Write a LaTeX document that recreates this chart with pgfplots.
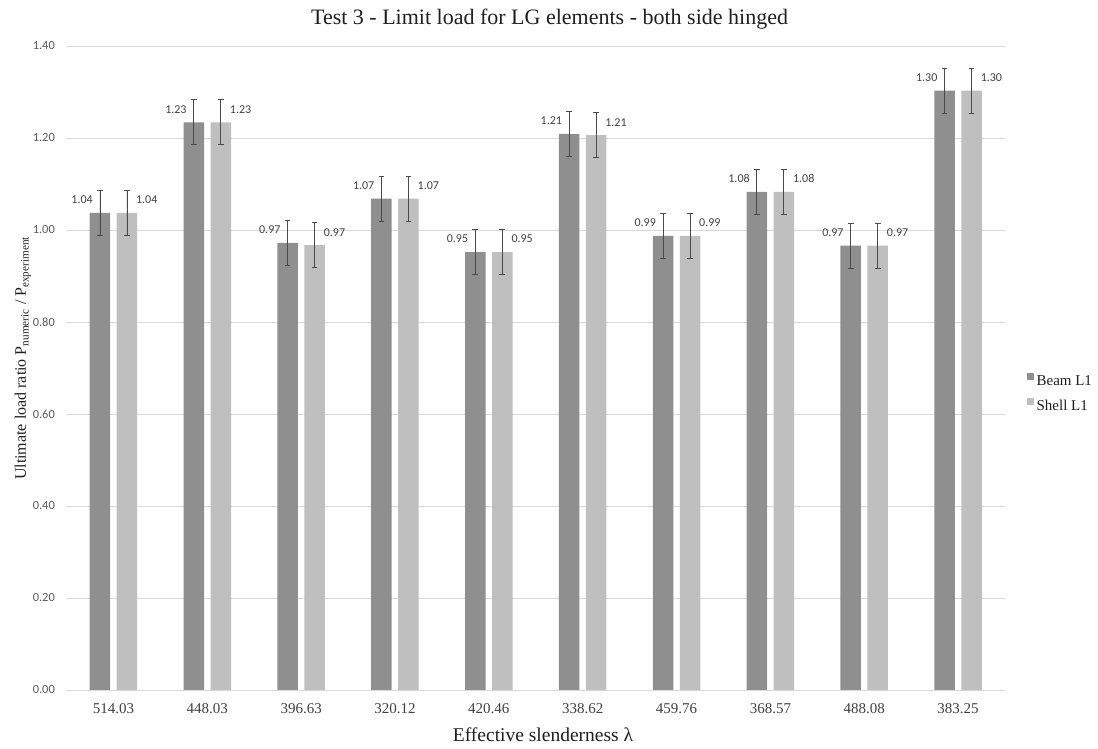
\documentclass[border=0pt]{standalone}
\usepackage{fontspec}
\setmainfont{Liberation Serif}
\newfontfamily\carlito{Carlito}
\usepackage{pgfplots}
\pgfplotsset{compat=1.18}
\usepackage{pgfplotstable}
\definecolor{beam}{HTML}{8F8F8F}
\definecolor{shell}{HTML}{BFBFBF}
\definecolor{gridc}{HTML}{D9D9D9}
\definecolor{tickc}{HTML}{595959}
\definecolor{labc}{HTML}{404040}
\definecolor{errc}{HTML}{4A4A4A}
\definecolor{txtc}{HTML}{1F1F1F}

\pgfplotstableread{
x y e
0 1.037 0.049
1 1.234 0.049
2 0.972 0.049
3 1.068 0.049
4 0.952 0.049
5 1.209 0.049
6 0.987 0.049
7 1.083 0.049
8 0.966 0.049
9 1.303 0.049
}\beamdata
\pgfplotstableread{
x y e
0 1.037 0.049
1 1.234 0.049
2 0.967 0.049
3 1.068 0.049
4 0.952 0.049
5 1.206 0.049
6 0.987 0.049
7 1.083 0.049
8 0.966 0.049
9 1.303 0.049
}\shelldata

\begin{document}
\begin{tikzpicture}
\useasboundingbox (-66.5pt,-59pt) rectangle (1031.5pt,690pt);
\begin{axis}[
  at={(0pt,0pt)}, anchor=south west,
  scale only axis, width=938.5pt, height=644pt,
  ybar=6.5pt, bar width=20.5pt,
  xmin=-0.5, xmax=9.5, ymin=0, ymax=1.4,
  clip=false,
  xtick={0,1,2,3,4,5,6,7,8,9},
  xticklabels={514.03,448.03,396.63,320.12,420.46,338.62,459.76,368.57,488.08,383.25},
  ytick={0,0.2,0.4,0.6,0.8,1.0,1.2,1.4},
  ymajorgrids,
  grid style={gridc, line width=0.9pt},
  axis line style={draw=none},
  major tick length=0pt,
  tick style={draw=none},
  yticklabel style={font=\carlito\fontsize{12.4}{14}\selectfont, color=tickc, anchor=east, inner sep=0pt, xshift=-11.5pt,
    /pgf/number format/.cd, fixed, fixed zerofill, precision=2, assume math mode=true},
  xticklabel style={font=\fontsize{15}{17}\selectfont, color=labc, anchor=base, inner sep=0pt, yshift=-23.3pt},
  title={Test 3 - Limit load for LG elements - both side hinged},
  title style={font=\fontsize{22}{26}\selectfont, color=txtc, at={(axis description cs:0.5147,1.0248)}, anchor=base, inner sep=0pt},
  xlabel={Effective slenderness λ},
  xlabel style={font=\fontsize{19.5}{23}\selectfont, color=txtc, at={(axis description cs:0.5077,-0.0800)}, anchor=base, inner sep=0pt},
  ylabel={Ultimate load ratio P\textsubscript{numeric} / P\textsubscript{experiment}},
  ylabel style={font=\fontsize{16}{19}\selectfont, color=txtc, at={(axis description cs:-0.0432,0.515)}, anchor=base, inner sep=0pt},
  legend style={at={(axis description cs:1.0231,0.4604)}, anchor=west, draw=none, fill=none, inner sep=0pt,
    font=\fontsize{15}{17}\selectfont, text=txtc, row sep=8.5pt, column sep=2.7pt,
    nodes={inner sep=0pt, text height=11pt, text depth=3.5pt}},
  legend cell align=left,
  nodes near coords={\pgfmathprintnumber[fixed,fixed zerofill,precision=2,assume math mode=true]{\pgfplotspointmeta}},
]
\addplot[fill=beam, draw=none,
  legend image code/.code={\path[fill=beam] (0pt,2pt) rectangle (7pt,9pt);},
  every node near coord/.append style={font=\carlito\fontsize{12}{14}\selectfont, color=labc, anchor=east, inner sep=0pt, xshift=-7pt, yshift=13pt},
  error bars/.cd, y dir=both, y explicit,
  error bar style={errc, line width=0.8pt},
  error mark options={rotate=90, errc, line width=0.8pt, mark size=2.85pt}]
  table[x=x, y=y, y error=e]{\beamdata};
\addlegendentry{Beam L1}
\addplot[fill=shell, draw=none,
  legend image code/.code={\path[fill=shell] (0pt,2pt) rectangle (7pt,9pt);},
  every node near coord/.append style={font=\carlito\fontsize{12}{14}\selectfont, color=labc, anchor=west, inner sep=0pt, xshift=9pt, yshift=13pt},
  error bars/.cd, y dir=both, y explicit,
  error bar style={errc, line width=0.8pt},
  error mark options={rotate=90, errc, line width=0.8pt, mark size=2.85pt}]
  table[x=x, y=y, y error=e]{\shelldata};
\addlegendentry{Shell L1}
\end{axis}
\end{tikzpicture}
\end{document}
